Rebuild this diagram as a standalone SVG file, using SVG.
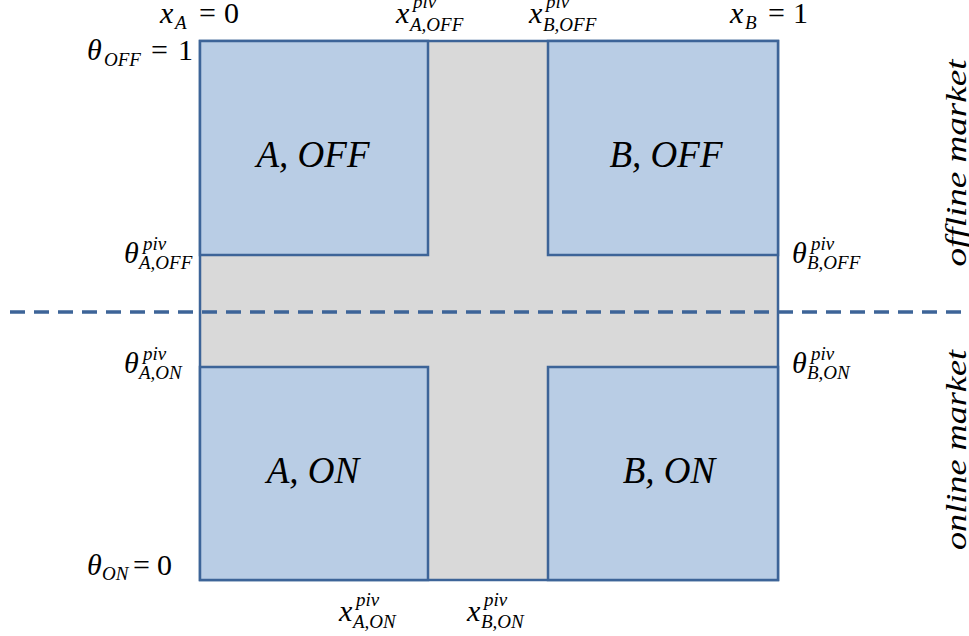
<svg xmlns="http://www.w3.org/2000/svg" width="969" height="636" viewBox="0 0 969 636">
<style>
.m { font-family: "Liberation Serif", "DejaVu Serif", serif; font-style: italic; fill: #000; font-size: 30px; }
.s { font-size: 19px; }
.up { font-style: normal; }
.big { font-size: 37px; text-anchor: middle; }
.box { fill: #B9CDE5; stroke: #3D6498; stroke-width: 2.5; }
.band { fill: #D9D9D9; stroke: #3D6498; stroke-width: 2.5; }
.dash { stroke: #3D6498; stroke-width: 3.5; stroke-dasharray: 15 9; fill: none; }
</style>
<g id="background">
  <rect class="band" x="200" y="41" width="578" height="539"/>
</g>
<g id="node-A-OFF">
  <rect class="box" x="200" y="41" width="228" height="214"/>
  <text class="m big" x="313" y="167">A, OFF</text>
</g>
<g id="node-B-OFF">
  <rect class="box" x="548" y="41" width="230" height="214"/>
  <text class="m big" x="666" y="167">B, OFF</text>
</g>
<g id="node-A-ON">
  <rect class="box" x="200" y="367" width="228" height="213"/>
  <text class="m big" x="313" y="483">A, ON</text>
</g>
<g id="node-B-ON">
  <rect class="box" x="548" y="367" width="230" height="213"/>
  <text class="m big" x="669" y="483">B, ON</text>
</g>
<g id="connectors">
  <line class="dash" x1="10" y1="312" x2="969" y2="312"/>
</g>
<g id="labels">
  <text class="m" x="160" y="23">x<tspan class="s" x="175" y="29">A</tspan><tspan class="up" x="199" y="23">=</tspan><tspan class="up" x="224" y="23">0</tspan></text>
  <text class="m" x="730" y="23">x<tspan class="s" x="745" y="29">B</tspan><tspan class="up" x="768" y="23">=</tspan><tspan class="up" x="793" y="23">1</tspan></text>
  <text class="m" x="87" y="60">θ<tspan class="s" x="104" y="66">OFF</tspan><tspan class="up" x="151" y="60">=</tspan><tspan class="up" x="178" y="60">1</tspan></text>
  <text class="m" x="87" y="575">θ<tspan class="s" x="102" y="580">ON</tspan><tspan class="up" x="133" y="575">=</tspan><tspan class="up" x="157" y="575">0</tspan></text>

  <text class="m" x="396" y="23">x<tspan class="s" x="413" y="8">piv</tspan><tspan class="s" x="410" y="31">A,OFF</tspan></text>
  <text class="m" x="529" y="23">x<tspan class="s" x="546" y="8">piv</tspan><tspan class="s" x="543" y="31">B,OFF</tspan></text>
  <text class="m" x="339" y="621">x<tspan class="s" x="356" y="606">piv</tspan><tspan class="s" x="353" y="628">A,ON</tspan></text>
  <text class="m" x="467" y="621">x<tspan class="s" x="484" y="606">piv</tspan><tspan class="s" x="481" y="628">B,ON</tspan></text>

  <text class="m" x="124" y="263">θ<tspan class="s" x="143" y="250">piv</tspan><tspan class="s" x="139" y="269">A,OFF</tspan></text>
  <text class="m" x="124" y="373">θ<tspan class="s" x="143" y="360">piv</tspan><tspan class="s" x="139" y="379">A,ON</tspan></text>
  <text class="m" x="792" y="263">θ<tspan class="s" x="811" y="250">piv</tspan><tspan class="s" x="807" y="269">B,OFF</tspan></text>
  <text class="m" x="792" y="373">θ<tspan class="s" x="811" y="360">piv</tspan><tspan class="s" x="807" y="379">B,ON</tspan></text>

  <text class="m" font-size="37" text-anchor="middle" transform="translate(966,163) rotate(-90)" textLength="207" lengthAdjust="spacingAndGlyphs">offline market</text>
  <text class="m" font-size="37" text-anchor="middle" transform="translate(966,450) rotate(-90)" textLength="200" lengthAdjust="spacingAndGlyphs">online market</text>
</g>
</svg>
